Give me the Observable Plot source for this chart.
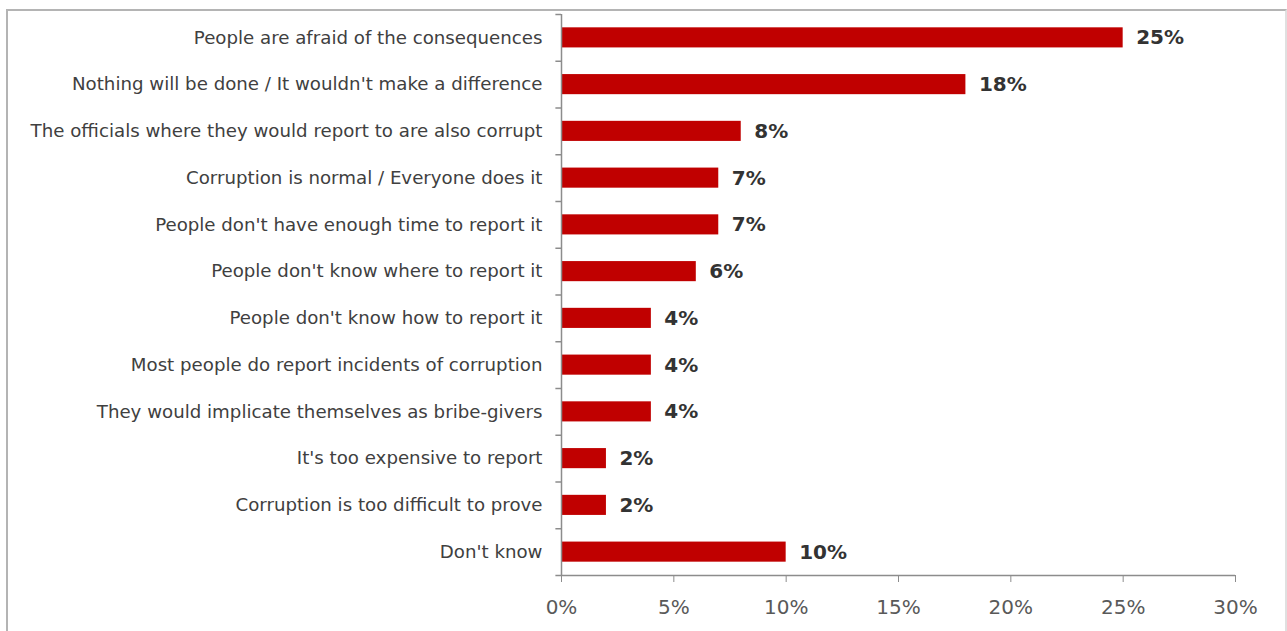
<!DOCTYPE html>
<html>
<head>
<meta charset="utf-8">
<script src="https://cdn.jsdelivr.net/npm/d3@7"></script>
<script src="https://cdn.jsdelivr.net/npm/@observablehq/plot@0.6"></script>
<style>
  html, body { margin: 0; padding: 0; background: #fff; }
  #wrap { position: relative; width: 1287px; height: 631px; overflow: hidden; }
  #border { position: absolute; left: 6px; top: 9px; width: 1277px; height: 640px;
            border-top: 2px solid #b4b4b4; border-left: 2px solid #b4b4b4; border-right: 2px solid #e0e0e0;
            pointer-events: none; }
</style>
</head>
<body>
<div id="wrap"><div id="border"></div></div>
<script>
const categories = [
  "People are afraid of the consequences",
  "Nothing will be done / It wouldn't make a difference",
  "The officials where they would report to are also corrupt",
  "Corruption is normal / Everyone does it",
  "People don't have enough time to report it",
  "People don't know where to report it",
  "People don't know how to report it",
  "Most people do report incidents of corruption",
  "They would implicate themselves as bribe-givers",
  "It's too expensive to report",
  "Corruption is too difficult to prove",
  "Don't know"
];
const values = [25, 18, 8, 7, 7, 6, 4, 4, 4, 2, 2, 10];
const xTicks = [0, 5, 10, 15, 20, 25, 30];

const data = categories.map((c, i) => ({label: c, value: values[i]}));
const plotH = 631 - 14 - 56;
const half = plotH / categories.length / 2;
const last = categories[categories.length - 1];
const font = "'DejaVu Sans', sans-serif";

const chart = Plot.plot({
  width: 1287,
  height: 631,
  marginLeft: 561,
  marginRight: 52,
  marginTop: 14,
  marginBottom: 56,
  style: {fontFamily: font, background: "transparent", overflow: "visible"},
  x: {domain: [0, 30]},
  y: {domain: categories, paddingInner: 0.57, paddingOuter: 0.285, round: false},
  marks: [
    Plot.barX(data, {x: "value", y: "label", fill: "#C00000"}),
    Plot.text(data, {x: "value", y: "label", text: d => d.value + "%", textAnchor: "start",
      dx: 13, fontWeight: "bold", fontSize: 20, fill: "#333333"}),
    Plot.axisY({tickSize: 0, tickPadding: 19, fontSize: 18.2, color: "#404040", label: null}),
    Plot.axisX({ticks: xTicks, tickFormat: d => d + "%", tickSize: 7, tickPadding: 17,
      fontSize: 20, color: "#595959", stroke: "#8c8c8c", label: null}),
    Plot.ruleX([0], {stroke: "#8c8c8c", strokeWidth: 1.5}),
    Plot.ruleY(categories, {y: d => d, x1: 0, x2: -0.25, dy: -half, stroke: "#8c8c8c", strokeWidth: 1.5}),
    Plot.ruleY([last], {y: d => d, x1: -0.25, x2: 30, dy: half, stroke: "#8c8c8c", strokeWidth: 1.5})
  ]
});
document.getElementById("wrap").prepend(chart);
</script>
</body>
</html>
